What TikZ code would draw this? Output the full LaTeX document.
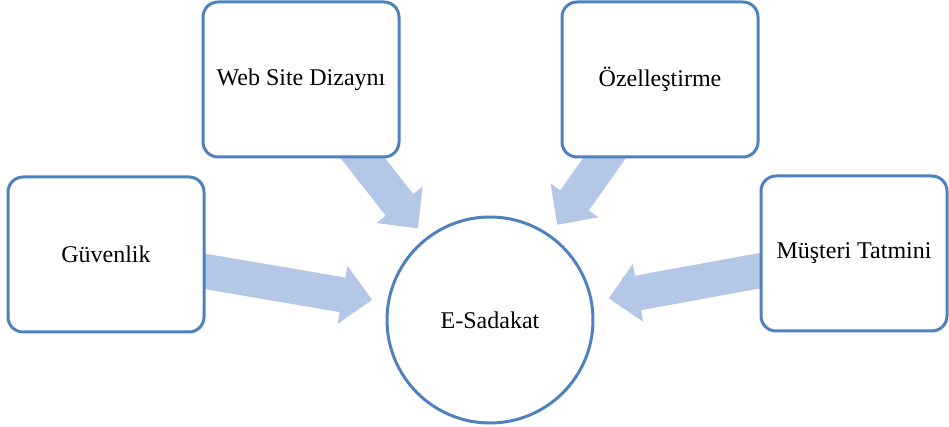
\documentclass[tikz,border=0pt]{standalone}
\usepackage{fontspec}
\setmainfont{Liberation Serif}
\usepackage{xcolor}
\usetikzlibrary{positioning,arrows.meta,backgrounds}
\definecolor{boxline}{RGB}{79,129,189}
\definecolor{arrowfill}{RGB}{180,199,231}

\begin{document}
\begin{tikzpicture}[x=0.5pt,y=-0.5pt,
		factor/.style={draw=boxline,line width=1.5pt,rounded corners=7.5pt,fill=white,minimum width=98pt,minimum height=77.5pt,font=\fontsize{12}{14}\selectfont},
		core/.style={circle,draw=boxline,line width=1.5pt,fill=white,minimum size=103pt,inner sep=0pt,font=\fontsize{12}{14}\selectfont},
		feed/.style={draw=arrowfill,line width=17.5pt,-{Triangle[length=15pt,width=28.5pt]},shorten >=6pt}]
		\useasboundingbox (0,0) rectangle (949,427);
		\node[core] (loy) at (490,320) {E-Sadakat};
		\node[factor] (web) at (301,79.5) {Web Site Dizaynı};
		\node[factor] (ozel) at (660,79.5) {Özelleştirme};
		\node[factor] (guv) at (106,254.5) {Güvenlik};
		\node[factor,minimum width=93pt] (must) at (854,253.5) {Müşteri Tatmini};
	
		\begin{scope}[on background layer]
		\draw[feed] (web.center) -- (loy);
		\draw[feed] (ozel.center) -- (loy);
		\draw[feed,shorten >=7.5pt] (guv.center) -- (loy);
		\draw[feed,shorten >=8pt] (must.center) -- (loy);
		\end{scope}
	\end{tikzpicture}
\end{document}
